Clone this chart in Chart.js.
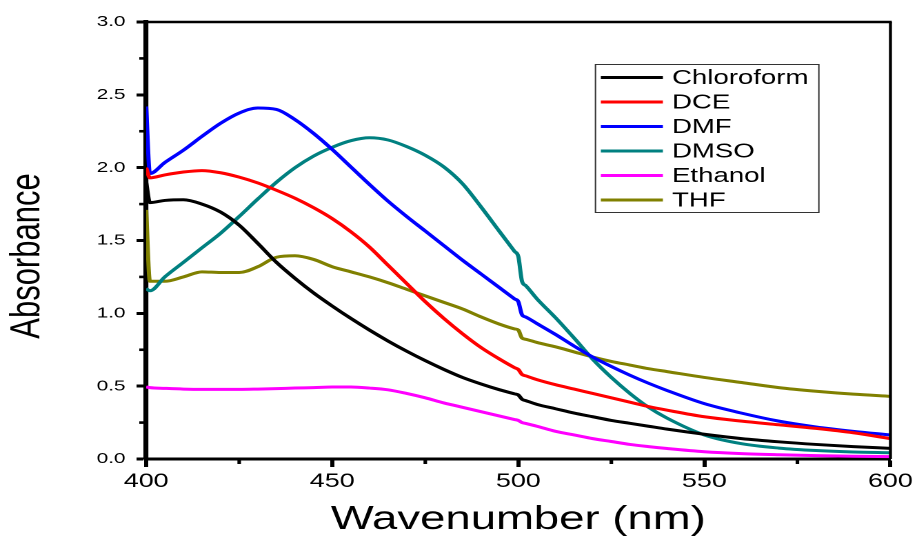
<!DOCTYPE html>
<html>
<head>
<meta charset="utf-8">
<title>Absorbance spectra in different solvents</title>
<script src="https://cdn.jsdelivr.net/npm/chart.js@4.4.1/dist/chart.umd.min.js"></script>
<style>
  html, body { margin: 0; padding: 0; background: #ffffff; overflow: hidden; }
  /* the plot is laid out at 665 px and widened to the 917 px page */
  #stage { width: 665px; height: 538px; transform: scaleX(1.37895); transform-origin: 0 0; }
</style>
</head>
<body>
<div id="stage"><canvas id="spectra"></canvas></div>
<script>
// Wavelength grid (nm)
const wavelength = [400, 401, 405, 410, 415, 420, 425, 430, 435, 440, 445, 450, 455, 460, 465, 470,
  475, 480, 485, 490, 495, 499, 500, 501, 502, 505, 510, 515, 520, 525, 530, 535, 540, 550, 560, 570, 580, 590, 600];

// Absorbance per solvent
const chloroform = [1.90, 1.76, 1.775, 1.78, 1.75, 1.695, 1.605, 1.48, 1.35, 1.24, 1.14, 1.05, 0.965, 0.885, 0.81, 0.74,
  0.675, 0.615, 0.56, 0.515, 0.475, 0.447, 0.44, 0.41, 0.401, 0.375, 0.345, 0.315, 0.29, 0.265, 0.245, 0.225, 0.205, 0.17, 0.14, 0.118, 0.10, 0.085, 0.073];
const dce = [2.00, 1.93, 1.95, 1.97, 1.98, 1.965, 1.935, 1.895, 1.845, 1.79, 1.725, 1.65, 1.56, 1.455, 1.33, 1.205,
  1.08, 0.965, 0.86, 0.765, 0.685, 0.627, 0.615, 0.58, 0.571, 0.545, 0.51, 0.48, 0.45, 0.42, 0.39, 0.36, 0.335, 0.29, 0.26, 0.235, 0.21, 0.18, 0.14];
const dmf = [2.42, 1.96, 2.035, 2.12, 2.215, 2.305, 2.375, 2.41, 2.40, 2.33, 2.235, 2.125, 2.005, 1.885, 1.77, 1.665,
  1.565, 1.465, 1.365, 1.27, 1.175, 1.099, 1.08, 0.99, 0.975, 0.93, 0.855, 0.775, 0.70, 0.635, 0.575, 0.52, 0.47, 0.38, 0.315, 0.26, 0.22, 0.19, 0.165];
const dmso = [1.17, 1.155, 1.25, 1.35, 1.45, 1.55, 1.665, 1.785, 1.90, 2.00, 2.08, 2.14, 2.185, 2.205, 2.19, 2.145,
  2.085, 2.005, 1.89, 1.73, 1.56, 1.425, 1.39, 1.22, 1.19, 1.10, 0.97, 0.83, 0.685, 0.56, 0.45, 0.355, 0.28, 0.165, 0.105, 0.075, 0.058, 0.048, 0.043];
const ethanol = [0.495, 0.49, 0.485, 0.48, 0.478, 0.478, 0.478, 0.48, 0.483, 0.487, 0.49, 0.494, 0.494, 0.487, 0.475, 0.45,
  0.42, 0.385, 0.355, 0.325, 0.295, 0.271, 0.265, 0.25, 0.244, 0.225, 0.19, 0.165, 0.14, 0.12, 0.10, 0.085, 0.072, 0.05, 0.037, 0.029, 0.023, 0.019, 0.016];
const thf = [1.71, 1.22, 1.22, 1.25, 1.285, 1.28, 1.28, 1.32, 1.385, 1.395, 1.37, 1.32, 1.285, 1.25, 1.21, 1.165,
  1.12, 1.075, 1.03, 0.975, 0.925, 0.893, 0.885, 0.83, 0.822, 0.80, 0.77, 0.735, 0.70, 0.67, 0.645, 0.62, 0.60, 0.56, 0.525, 0.49, 0.465, 0.445, 0.43];

const solventNames = ['Chloroform', 'DCE', 'DMF', 'DMSO', 'Ethanol', 'THF'];
const solventColors = ['#000000', '#ff0000', '#0000ff', '#008080', '#ff00ff', '#808000'];
const solventSeries = [chloroform, dce, dmf, dmso, ethanol, thf];

const xTicks = { min: 400, max: 600, step: 50 };
const yTicks = { min: 0, max: 3, step: 0.5 };
const yTitle = 'Absorbance';

const FONT = "'Liberation Sans', Arial, Helvetica, sans-serif";

const datasets = solventNames.map((name, i) => ({
  label: name,
  data: wavelength.map((w, k) => ({ x: w, y: solventSeries[i][k] })),
  borderColor: solventColors[i],
  backgroundColor: solventColors[i],
  borderWidth: 3,
  pointRadius: 0,
  fill: false,
  cubicInterpolationMode: 'monotone'
}));

// Short minor ticks halfway between the labelled ticks, the top/right frame and the y title
const framePlugin = {
  id: 'frameAndMinorTicks',
  afterDraw(chart) {
    const { ctx, chartArea: a, scales: { x, y } } = chart;
    ctx.save();
    ctx.strokeStyle = '#000';
    ctx.lineCap = 'butt';
    ctx.lineWidth = 2.5;
    ctx.beginPath();
    ctx.moveTo(a.left, a.top);
    ctx.lineTo(a.right + 1, a.top);
    ctx.stroke();
    ctx.lineWidth = 2.2;
    ctx.beginPath();
    ctx.moveTo(a.right, a.top);
    ctx.lineTo(a.right, a.bottom);
    ctx.stroke();

    ctx.lineWidth = 2.6;
    const minor = 5;
    for (let i = 0; i + 1 < y.ticks.length; i++) {
      const py = y.getPixelForValue((y.ticks[i].value + y.ticks[i + 1].value) / 2);
      ctx.beginPath();
      ctx.moveTo(a.left - minor, py);
      ctx.lineTo(a.left, py);
      ctx.stroke();
    }
    for (let i = 0; i + 1 < x.ticks.length; i++) {
      const px = x.getPixelForValue((x.ticks[i].value + x.ticks[i + 1].value) / 2);
      ctx.beginPath();
      ctx.moveTo(px, a.bottom);
      ctx.lineTo(px, a.bottom + minor);
      ctx.stroke();
    }

    // vertical axis title, set a little below the middle of the axis
    ctx.translate(20, (a.top + a.bottom) / 2 + 15.5);
    ctx.rotate(-Math.PI / 2);
    ctx.fillStyle = '#000';
    ctx.font = `31px ${FONT}`;
    ctx.textAlign = 'center';
    ctx.textBaseline = 'middle';
    ctx.fillText(yTitle, 0, 0);
    ctx.restore();
  }
};

// Boxed legend inside the upper right of the plot
const legendPlugin = {
  id: 'insetLegend',
  afterDraw(chart) {
    const { ctx, chartArea: a } = chart;
    const boxW = 162, boxH = 148;
    const left = a.right - 52.4 - boxW;
    const top = a.top + 42;
    const rowH = 24.5;
    ctx.save();
    ctx.fillStyle = '#ffffff';
    ctx.fillRect(left, top, boxW, boxH);
    ctx.strokeStyle = '#333333';
    ctx.lineWidth = 1;
    ctx.strokeRect(left + 0.5, top + 0.5, boxW, boxH);
    ctx.font = `20px ${FONT}`;
    ctx.textBaseline = 'middle';
    ctx.textAlign = 'left';
    chart.data.datasets.forEach((ds, i) => {
      const cy = top + 13.5 + i * rowH;
      ctx.strokeStyle = ds.borderColor;
      ctx.lineWidth = 3;
      ctx.beginPath();
      ctx.moveTo(left + 4.4, cy);
      ctx.lineTo(left + 49.4, cy);
      ctx.stroke();
      ctx.fillStyle = '#000';
      ctx.fillText(ds.label, left + 56, cy + 1);
    });
    ctx.restore();
  }
};

new Chart(document.getElementById('spectra'), {
  type: 'line',
  data: { datasets },
  plugins: [framePlugin, legendPlugin],
  options: {
    responsive: true,
    maintainAspectRatio: false,
    devicePixelRatio: 2,
    animation: false,
    events: [],
    layout: { padding: { top: 22, right: 16.5, left: 0, bottom: 0 } },
    plugins: { legend: { display: false }, tooltip: { enabled: false } },
    scales: {
      x: {
        type: 'linear',
        min: xTicks.min,
        max: xTicks.max,
        afterFit(scale) { scale.height = 79; },
        border: { display: true, color: '#000', width: 3 },
        grid: { drawOnChartArea: false, drawTicks: true, tickLength: 8, tickWidth: 3, tickColor: '#000' },
        ticks: {
          stepSize: xTicks.step,
          color: '#000',
          padding: 3,
          maxRotation: 0,
          font: { family: FONT, size: 19.5 },
          callback: v => String(v)
        },
        title: {
          display: true,
          text: 'Wavenumber (nm)',
          color: '#000',
          font: { family: FONT, size: 33, lineHeight: 1 },
          padding: { top: 0, bottom: 1.5 }
        }
      },
      y: {
        type: 'linear',
        min: yTicks.min,
        max: yTicks.max,
        afterFit(scale) { scale.width = 106; },
        border: { display: true, color: '#000', width: 3.6 },
        grid: { drawOnChartArea: false, drawTicks: true, tickLength: 7, tickWidth: 3, tickColor: '#000' },
        ticks: {
          stepSize: yTicks.step,
          color: '#000',
          padding: 8,
          font: { family: FONT, size: 15 },
          callback: v => Number(v).toFixed(1)
        },
        title: { display: false }
      }
    }
  }
});
</script>
</body>
</html>
